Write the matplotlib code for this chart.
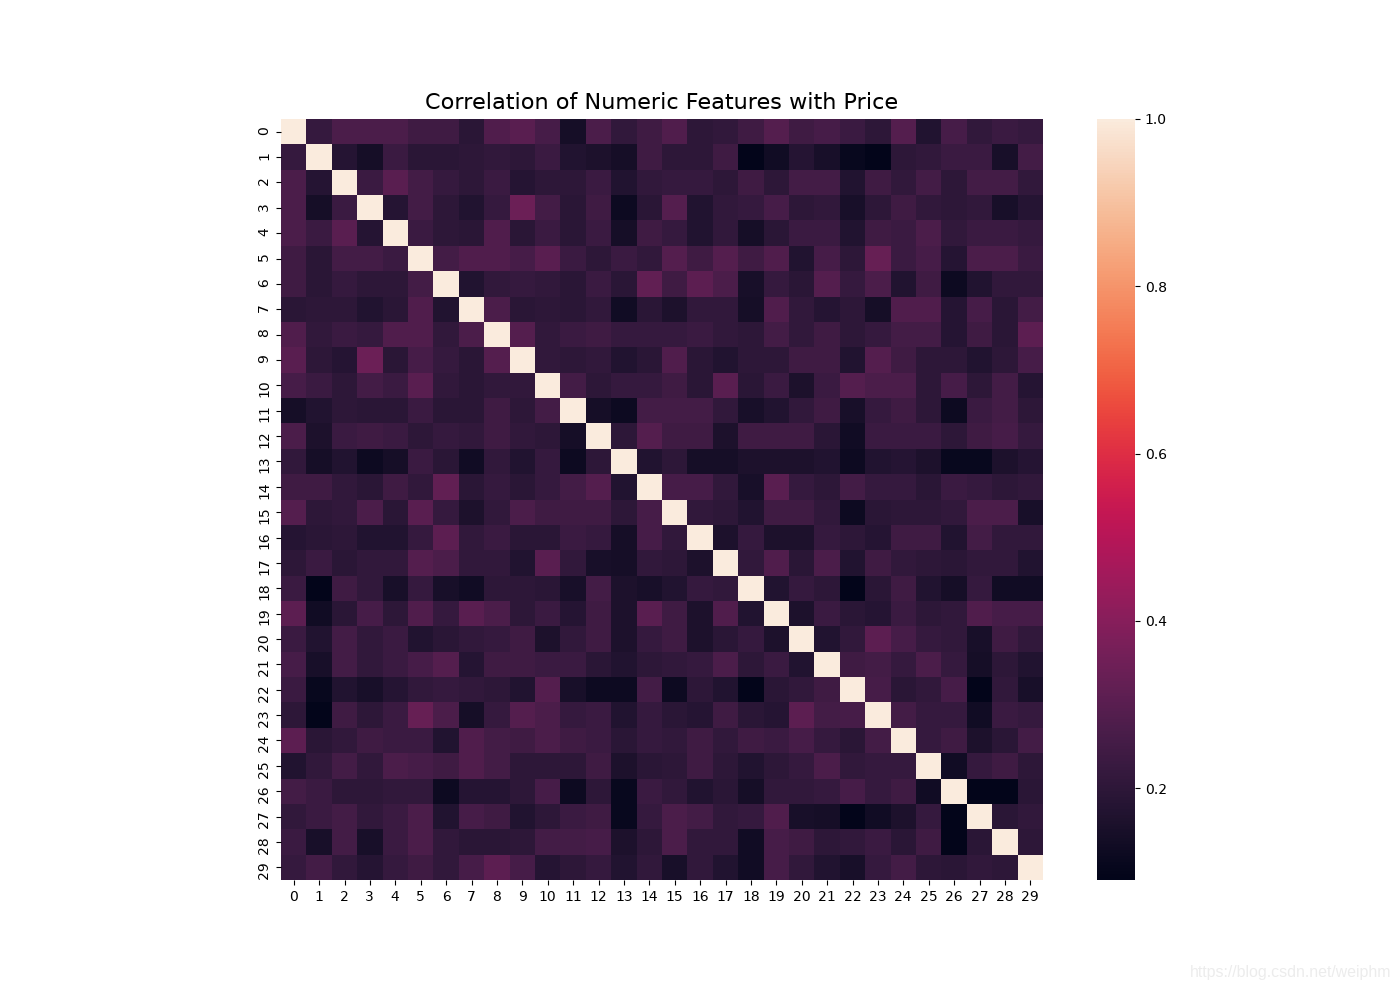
import numpy as np
import pandas as pd
import seaborn as sns
import matplotlib
matplotlib.use("Agg")
import matplotlib.pyplot as plt
from matplotlib.transforms import ScaledTranslation

plt.rcParams['text.hinting'] = 'native'

labels = list(range(30))

# --- CORRELATION VALUES ---
row_00 = [1, .22, .27, .27, .27, .24, .24, .19, .28, .30, .26, .14, .27, .21, .24, .28, .20, .21, .24, .29, .24, .26, .23, .20, .29, .17, .26, .21, .23, .22]
row_01 = [.22, 1, .18, .14, .23, .19, .19, .20, .21, .20, .23, .17, .16, .14, .24, .20, .20, .24, .09, .13, .18, .15, .11, .09, .20, .21, .23, .23, .15, .25]
row_02 = [.27, .18, 1, .23, .30, .25, .22, .20, .23, .18, .20, .20, .23, .17, .21, .22, .22, .20, .24, .20, .25, .25, .17, .24, .21, .25, .20, .25, .25, .21]
row_03 = [.27, .14, .23, 1, .18, .25, .20, .17, .22, .34, .25, .19, .24, .12, .19, .29, .17, .21, .22, .26, .20, .21, .15, .20, .24, .21, .20, .21, .15, .18]
row_04 = [.27, .23, .30, .18, 1, .23, .20, .19, .28, .19, .23, .19, .23, .14, .24, .22, .17, .21, .14, .19, .23, .23, .17, .24, .23, .27, .21, .23, .23, .22]
row_05 = [.24, .19, .25, .25, .23, 1, .25, .28, .28, .26, .30, .23, .20, .23, .21, .29, .24, .29, .24, .28, .17, .26, .20, .33, .23, .26, .18, .27, .27, .23]
row_06 = [.24, .19, .22, .20, .20, .25, 1, .17, .21, .22, .21, .19, .23, .19, .32, .24, .31, .27, .15, .22, .19, .29, .22, .27, .17, .24, .12, .17, .21, .21]
row_07 = [.19, .20, .20, .17, .19, .28, .17, 1, .27, .19, .20, .19, .21, .13, .19, .16, .21, .21, .14, .28, .21, .18, .20, .14, .28, .28, .18, .26, .19, .25]
row_08 = [.28, .21, .23, .22, .28, .28, .21, .27, 1, .29, .21, .23, .24, .22, .22, .22, .23, .21, .20, .25, .21, .24, .20, .22, .25, .25, .18, .24, .19, .31]
row_09 = [.30, .20, .18, .34, .19, .26, .22, .19, .29, 1, .21, .20, .21, .17, .19, .28, .19, .17, .20, .20, .24, .24, .17, .29, .24, .20, .20, .17, .20, .26]
row_10 = [.26, .23, .20, .25, .23, .30, .21, .19, .21, .21, 1, .25, .20, .22, .22, .24, .19, .30, .19, .23, .16, .23, .29, .27, .27, .20, .26, .20, .25, .18]
row_11 = [.14, .17, .20, .19, .19, .23, .19, .19, .24, .20, .25, 1, .14, .12, .25, .25, .25, .21, .15, .17, .21, .24, .15, .22, .24, .20, .12, .23, .25, .20]
row_12 = [.27, .16, .23, .24, .23, .20, .22, .21, .24, .21, .20, .14, 1, .20, .29, .24, .24, .16, .24, .24, .24, .19, .13, .23, .23, .23, .20, .24, .26, .22]
row_13 = [.21, .14, .17, .12, .14, .23, .19, .13, .21, .17, .22, .12, .20, 1, .17, .20, .14, .14, .16, .16, .16, .17, .12, .17, .18, .16, .11, .11, .16, .18]
row_14 = [.24, .24, .21, .19, .24, .21, .32, .19, .22, .19, .22, .25, .29, .17, 1, .26, .26, .21, .15, .30, .22, .20, .25, .22, .22, .19, .23, .22, .20, .21]
row_15 = [.29, .20, .21, .27, .19, .30, .22, .16, .21, .27, .24, .24, .24, .20, .26, 1, .21, .20, .17, .24, .24, .21, .12, .19, .20, .20, .21, .27, .27, .15]
row_16 = [.18, .19, .20, .17, .17, .22, .31, .21, .23, .19, .19, .23, .22, .14, .26, .21, 1, .16, .22, .16, .16, .22, .20, .18, .24, .24, .17, .25, .21, .21]
row_17 = [.20, .23, .19, .21, .21, .29, .27, .21, .21, .17, .30, .21, .15, .14, .21, .20, .16, 1, .21, .28, .19, .27, .17, .24, .21, .20, .19, .21, .21, .17]
row_18 = [.23, .09, .24, .21, .15, .22, .15, .13, .20, .20, .19, .15, .25, .16, .15, .17, .22, .21, 1, .17, .22, .20, .09, .19, .24, .17, .14, .22, .13, .13]
row_19 = [.31, .13, .19, .26, .20, .28, .22, .30, .27, .20, .23, .18, .24, .16, .30, .24, .16, .28, .17, 1, .16, .23, .19, .18, .23, .20, .21, .28, .26, .26]
row_20 = [.23, .17, .25, .21, .23, .17, .19, .21, .22, .24, .16, .21, .24, .16, .22, .24, .16, .19, .22, .16, 1, .17, .21, .31, .26, .22, .21, .15, .24, .21]
row_21 = [.26, .15, .25, .21, .23, .26, .29, .18, .24, .24, .23, .23, .19, .17, .20, .21, .22, .27, .20, .23, .17, 1, .24, .25, .22, .27, .22, .14, .20, .17]
row_22 = [.23, .11, .17, .15, .18, .21, .22, .21, .20, .17, .29, .15, .12, .12, .25, .12, .20, .17, .09, .19, .21, .24, 1, .26, .19, .21, .26, .09, .21, .15]
row_23 = [.20, .09, .24, .20, .23, .33, .27, .14, .22, .29, .27, .22, .23, .17, .22, .19, .18, .24, .19, .18, .31, .25, .26, 1, .25, .22, .22, .13, .23, .22]
row_24 = [.31, .19, .21, .24, .23, .23, .17, .28, .25, .24, .27, .24, .23, .19, .22, .21, .24, .21, .24, .23, .26, .22, .19, .25, 1, .22, .24, .16, .19, .25]
row_25 = [.17, .21, .25, .21, .27, .26, .24, .28, .25, .20, .20, .20, .24, .16, .19, .20, .24, .20, .17, .20, .22, .27, .21, .22, .22, 1, .13, .22, .24, .20]
row_26 = [.25, .23, .20, .20, .21, .21, .12, .18, .18, .20, .26, .12, .20, .11, .23, .21, .17, .19, .14, .21, .21, .22, .26, .22, .24, .13, 1, .09, .09, .19]
row_27 = [.21, .23, .25, .21, .23, .27, .17, .26, .24, .17, .20, .23, .24, .11, .22, .27, .25, .21, .22, .28, .15, .14, .09, .13, .16, .22, .09, 1, .19, .21]
row_28 = [.23, .15, .25, .15, .23, .27, .21, .19, .19, .20, .25, .25, .26, .16, .20, .27, .21, .21, .13, .26, .24, .20, .21, .23, .19, .24, .09, .19, 1, .20]
row_29 = [.22, .25, .21, .18, .22, .24, .21, .26, .31, .26, .18, .20, .22, .17, .21, .15, .21, .17, .13, .26, .21, .17, .15, .22, .25, .20, .19, .21, .20, 1]

corr = pd.DataFrame(
    [row_00, row_01, row_02, row_03, row_04, row_05, row_06, row_07, row_08, row_09,
     row_10, row_11, row_12, row_13, row_14, row_15, row_16, row_17, row_18, row_19,
     row_20, row_21, row_22, row_23, row_24, row_25, row_26, row_27, row_28, row_29],
    index=labels, columns=labels)

W, H = 1400, 990
fig = plt.figure(figsize=(W / 100, H / 100), dpi=100)

# axes placed in pixels, same as the picture
ax = fig.add_axes([281 / W, 1 - 880 / H, 762 / W, 761 / H])
cax = fig.add_axes([1097 / W, 1 - 880 / H, 38 / W, 761 / H])

sns.heatmap(corr, ax=ax, cbar_ax=cax, xticklabels=labels, yticklabels=labels)
ax.tick_params(axis='x', labelrotation=0, labelsize=10)
ax.tick_params(axis='y', labelrotation=90, labelsize=10)

# y labels hang from just above the tick, so two digit ones sit lower
nudge = ScaledTranslation(0, 6 / 100, fig.dpi_scale_trans)
for t in ax.get_yticklabels():
    t.set_va('top')
    t.set_transform(t.get_transform() + nudge)
cax.tick_params(labelsize=10)

ax.set_title('Correlation of Numeric Features with Price', fontsize=16.1, pad=7.5)

# faint watermark in the corner
fig.text(1391 / W, 1 - 972 / H, 'https://blog.csdn.net/weiphm', ha='right', va='center',
         fontsize=11.4, color='#ececec', family=['Liberation Sans', 'DejaVu Sans'])

fig.savefig('out.png', dpi=100)
plt.close(fig)
